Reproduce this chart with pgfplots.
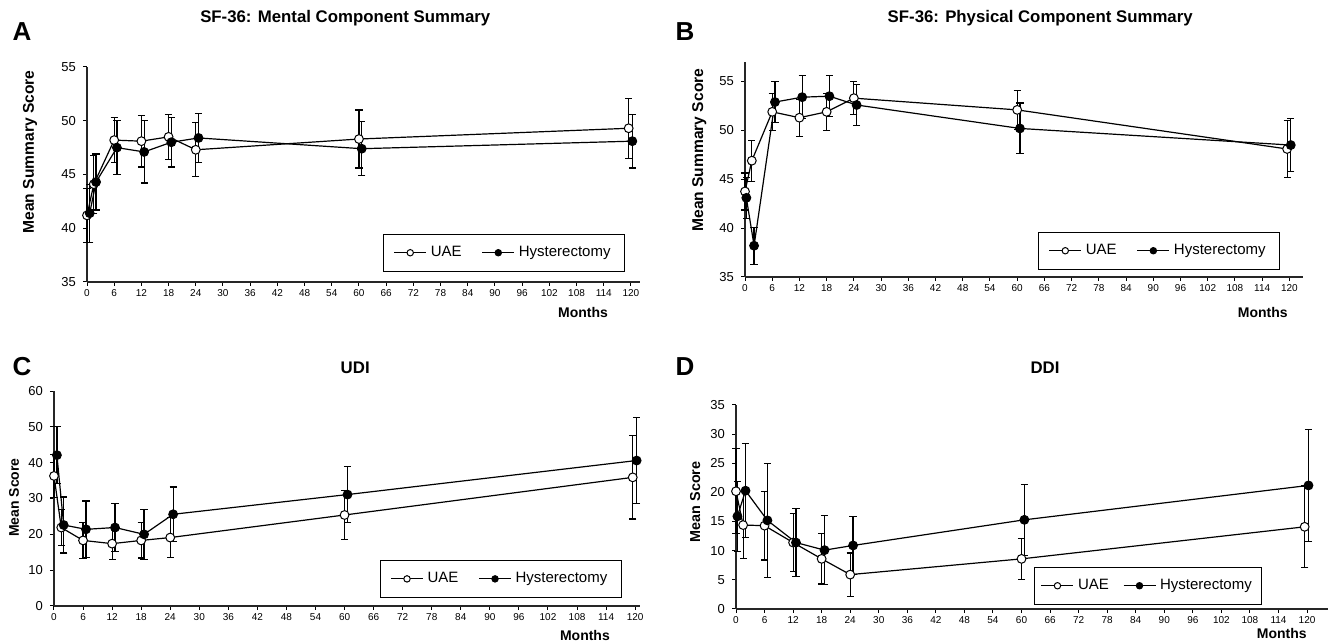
\documentclass[border=0pt]{standalone}
\usepackage{fontspec}
\setmainfont{Liberation Sans}
\usepackage{pgfplots}
\pgfplotsset{compat=1.18}

\pgfplotsset{
  panel/.style={
    scale only axis, clip=false,
    axis x line*=bottom, axis y line*=left,
    axis line style={line width=0.7pt, black!85},
    xmin=0, xtick={0,6,12,18,24,30,36,42,48,54,60,66,72,78,84,90,96,102,108,114,120},
    tick align=outside, major tick length=2pt,
    tick style={line width=0.5pt, black},
    xticklabel style={font=\fontsize{5}{5}\selectfont, anchor=base, yshift=-5.2pt},
    yticklabel style={font=\fontsize{6.5}{7}\selectfont},
    /pgf/number format/assume math mode=true,
    title style={font=\fontsize{8.4}{9}\bfseries\selectfont, anchor=center, yshift=-6pt},
    ylabel style={font=\fontsize{7.8}{8}\bfseries\selectfont, anchor=center},
    xlabel style={font=\fontsize{7}{8}\bfseries\selectfont, anchor=center},
    xlabel={Months},
    legend style={legend columns=2, draw=black, line width=0.5pt,
      font=\fontsize{7.5}{8}\selectfont, inner xsep=5pt, inner ysep=4pt,
      /tikz/every even column/.append style={column sep=8pt}},
    legend image code/.code={\draw[mark repeat=2, mark phase=2, #1, mark size=1.6pt]
      plot coordinates {(0pt,0pt) (8pt,0pt) (16pt,0pt)};},
  },
  series/.style={black, line width=0.6pt, mark=*, mark size=2.2pt,
    error bars/y dir=both, error bars/y explicit,
    error bars/error bar style={line width=0.6pt, black},
    error bars/error mark options={rotate=90, mark size=1.8pt, line width=0.6pt, black}},
  uae/.style={series, mark options={fill=white, line width=0.5pt}},
  hyst/.style={series, mark options={fill=black, line width=0.5pt}},
}

\begin{document}
\begin{tikzpicture}
\useasboundingbox (0pt,0pt) rectangle (670pt,-320.5pt);

\node[font=\fontsize{13}{13}\bfseries\selectfont] at (11pt,-16pt) {A};
\node[font=\fontsize{13}{13}\bfseries\selectfont] at (342.5pt,-16pt) {B};
\node[font=\fontsize{13}{13}\bfseries\selectfont] at (11pt,-183.5pt) {C};
\node[font=\fontsize{13}{13}\bfseries\selectfont] at (342.5pt,-183.5pt) {D};

% A: SF-36 mental
\begin{axis}[panel, at={(43.5pt,-141pt)}, anchor=south west,
  width=276.5pt, height=107.5pt, xmax=122, ymin=35, ymax=55, ytick={35,40,...,55},
  title={SF-36: Mental Component Summary},
  title style={at={(axis description cs:0.467,1.228)}},
  ylabel={Mean Summary Score},
  ylabel style={at={(axis description cs:-0.103,0.605)}},
  xlabel style={at={(axis description cs:0.897,-0.14)}},
  legend style={at={(0.973,0.047)}, anchor=south east}]
\addplot[uae] coordinates {
  (0,41.2) +- (0,2.5) (1.5,44.1) +- (0,2.7) (6,48.2) +- (0,2.1) (12,48.1) +- (0,2.4)
  (18,48.5) +- (0,2.1) (24,47.3) +- (0,2.5) (60,48.3) +- (0,2.7) (119.5,49.3) +- (0,2.8)};
\addplot[hyst] coordinates {
  (0.6,41.4) +- (0,2.7) (2,44.3) +- (0,2.6) (6.6,47.5) +- (0,2.5) (12.6,47.1) +- (0,2.9)
  (18.6,48.0) +- (0,2.3) (24.6,48.4) +- (0,2.3) (60.6,47.4) +- (0,2.5) (120.3,48.1) +- (0,2.5)};
\legend{UAE,Hysterectomy}
\end{axis}

% B: SF-36 physical
\begin{axis}[panel, at={(372.5pt,-138.5pt)}, anchor=south west,
  width=279pt, height=107.5pt, xmax=123, ymin=35, ymax=57, ytick={35,40,...,55},
  title={SF-36: Physical Component Summary},
  title style={at={(axis description cs:0.529,1.205)}},
  ylabel={Mean Summary Score},
  ylabel style={at={(axis description cs:-0.082,0.59)}},
  xlabel style={at={(axis description cs:0.928,-0.163)}},
  legend style={at={(0.959,0.033)}, anchor=south east}]
\addplot[uae] coordinates {
  (0,43.75) +- (0,1.9) (1.5,46.9) +- (0,2.1) (6,51.9) +- (0,1.9) (12,51.3) +- (0,1.9)
  (18,51.9) +- (0,1.9) (24,53.3) +- (0,1.7) (60,52.1) +- (0,2.0) (119.5,48.1) +- (0,2.9)};
\addplot[hyst] coordinates {
  (0.3,43.1) +- (0,2.1) (2,38.2) +- (0,1.9) (6.6,52.9) +- (0,2.1) (12.6,53.4) +- (0,2.2)
  (18.6,53.5) +- (0,2.1) (24.6,52.6) +- (0,2.1) (60.6,50.2) +- (0,2.6) (120.3,48.5) +- (0,2.7)};
\legend{UAE,Hysterectomy}
\end{axis}

% C: UDI
\begin{axis}[panel, at={(27pt,-303pt)}, anchor=south west,
  width=293pt, height=107.5pt, xmax=121, ymin=0, ymax=60, ytick={0,10,...,60},
  title={UDI},
  title style={at={(axis description cs:0.514,1.107)}},
  ylabel={Mean Score}, ylabel style={font=\fontsize{7}{8}\bfseries\selectfont},
  ylabel style={at={(axis description cs:-0.068,0.504)}},
  xlabel style={at={(axis description cs:0.906,-0.135)}},
  legend style={at={(0.969,0.037)}, anchor=south east}]
\addplot[uae] coordinates {
  (0,36.3) +- (0,6.0) (1.5,21.9) +- (0,5.0) (6,18.3) +- (0,5.0) (12,17.4) +- (0,4.5)
  (18,18.3) +- (0,4.9) (24,19.1) +- (0,5.6) (60,25.4) +- (0,6.8) (119.5,35.9) +- (0,11.6)};
\addplot[hyst] coordinates {
  (0.6,42.1) +- (0,7.9) (2,22.6) +- (0,7.8) (6.6,21.4) +- (0,7.9) (12.6,21.9) +- (0,6.6)
  (18.6,20.0) +- (0,7.0) (24.6,25.6) +- (0,7.6) (60.6,31.1) +- (0,7.9) (120.3,40.6) +- (0,11.9)};
\legend{UAE,Hysterectomy}
\end{axis}

% D: DDI
\begin{axis}[panel, at={(368pt,-304.5pt)}, anchor=south west,
  width=296pt, height=102pt, xmax=124.4, ymin=0, ymax=35, ytick={0,5,...,35},
  title={DDI},
  title style={at={(axis description cs:0.522,1.181)}},
  ylabel={Mean Score}, ylabel style={font=\fontsize{7.2}{8}\bfseries\selectfont},
  ylabel style={at={(axis description cs:-0.069,0.525)}},
  xlabel style={at={(axis description cs:0.922,-0.118)}},
  legend style={at={(0.889,0.02)}, anchor=south east, inner xsep=3pt,
    /tikz/every even column/.append style={column sep=5pt}}]
\addplot[uae] coordinates {
  (0,20.2) +- (0,7.3) (1.5,14.4) +- (0,5.7) (6,14.3) +- (0,5.9) (12,11.4) +- (0,5.0)
  (18,8.6) +- (0,4.3) (24,5.9) +- (0,3.7) (60,8.6) +- (0,3.5) (119.5,14.1) +- (0,7.0)};
\addplot[hyst] coordinates {
  (0.3,15.9) +- (0,6.0) (2,20.3) +- (0,8.1) (6.6,15.2) +- (0,9.8) (12.6,11.4) +- (0,5.8)
  (18.6,10.1) +- (0,5.9) (24.6,10.9) +- (0,5.0) (60.6,15.3) +- (0,6.1) (120.3,21.2) +- (0,9.6)};
\legend{UAE,Hysterectomy}
\end{axis}
\end{tikzpicture}
\end{document}
